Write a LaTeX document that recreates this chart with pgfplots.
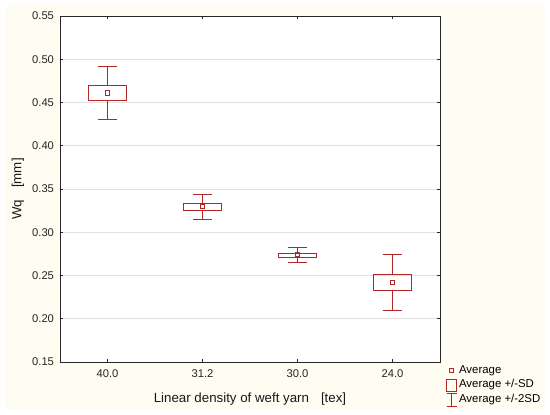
\documentclass[border=0pt]{standalone}
\usepackage{fontspec}
\setmainfont{Liberation Sans}
\usepackage{pgfplots}
\pgfplotsset{compat=1.18}
\usepgfplotslibrary{statistics}
\definecolor{cream}{RGB}{255,253,241}
\definecolor{dred}{RGB}{178,38,38}
\definecolor{axgray}{RGB}{40,40,40}
\begin{document}
\begin{tikzpicture}[x=1pt,y=1pt]
\fill[white] (-60,-53) rectangle (490,362);
\fill[cream] (-55,-48) rectangle (485,357);
\begin{axis}[
  at={(0,0)}, anchor=south west,
  scale only axis, width=380pt, height=346pt,
  xmin=-0.5, xmax=3.5, ymin=0.15, ymax=0.55,
  axis background/.style={fill=white},
  xtick={0,1,2,3}, xticklabels={40.0,31.2,30.0,24.0},
  ytick={0.15,0.20,0.25,0.30,0.35,0.40,0.45,0.50,0.55},
  yticklabels={0.15,0.20,0.25,0.30,0.35,0.40,0.45,0.50,0.55},
  ymajorgrids, grid style={draw=black!12, line width=0.8pt},
  axis line style={line width=0.9pt, draw=axgray},
  tick style={line width=0.8pt, draw=axgray},
  major tick length=3pt, tick align=inside,
  ticklabel style={font=\fontsize{11.2}{13}\selectfont, text=black!85},
  xticklabel style={yshift=-4pt},
  yticklabel style={xshift=-2.5pt},
  label style={font=\fontsize{13.3}{15}\selectfont, text=black!90},
  xlabel={Linear density of weft yarn\hspace{0.9em}[tex]},
  ylabel={Wq\hspace{0.9em}[mm]},
  xlabel style={at={(axis description cs:0.5,0)}, anchor=center, yshift=-37.5pt},
  ylabel style={at={(axis description cs:-0.1105,0.5)}, anchor=center},
  boxplot/draw direction=y,
  boxplot/box extend=0.41,
  boxplot/whisker extend=0.21,
  boxplot/draw/median/.code={},
  boxplot/draw/box/.code={\draw[draw=dred, line width=1pt]
    (boxplot box cs:\pgfplotsboxplotvalue{lower quartile},0) rectangle
    (boxplot box cs:\pgfplotsboxplotvalue{upper quartile},1);},
  boxplot/draw/lower whisker/.code={\draw[draw=dred, line width=1pt]
    (boxplot cs:\pgfplotsboxplotvalue{lower quartile}) --
    (boxplot cs:\pgfplotsboxplotvalue{lower whisker})
    (boxplot whisker cs:\pgfplotsboxplotvalue{lower whisker},0) --
    (boxplot whisker cs:\pgfplotsboxplotvalue{lower whisker},1);},
  boxplot/draw/upper whisker/.code={\draw[draw=dred, line width=1pt]
    (boxplot cs:\pgfplotsboxplotvalue{upper quartile}) --
    (boxplot cs:\pgfplotsboxplotvalue{upper whisker})
    (boxplot whisker cs:\pgfplotsboxplotvalue{upper whisker},0) --
    (boxplot whisker cs:\pgfplotsboxplotvalue{upper whisker},1);},
  legend style={at={(rel axis cs:1.0158,-0.003)}, anchor=north west,
    draw=none, fill=none, inner sep=0pt, row sep=0pt,
    font=\fontsize{11.4}{13}\selectfont,
    nodes={text height=8pt, text depth=2.6pt, inner sep=2pt}},
  legend cell align=left,
]
\addplot[draw=dred, line width=1pt, forget plot, boxplot prepared={draw position=0,
  lower whisker=0.4306, lower quartile=0.4525, median=0.461,
  upper quartile=0.4699, upper whisker=0.4914}] coordinates {};
\addplot[draw=dred, line width=1pt, forget plot, boxplot prepared={draw position=1,
  lower whisker=0.3153, lower quartile=0.3246, median=0.3296,
  upper quartile=0.3335, upper whisker=0.3431}] coordinates {};
\addplot[draw=dred, line width=1pt, forget plot, boxplot prepared={draw position=2,
  lower whisker=0.2653, lower quartile=0.2710, median=0.2745,
  upper quartile=0.2760, upper whisker=0.2821}] coordinates {};
\addplot[draw=dred, line width=1pt, forget plot, boxplot prepared={draw position=3,
  lower whisker=0.2101, lower quartile=0.2332, median=0.2421,
  upper quartile=0.2509, upper whisker=0.2737}] coordinates {};
\addplot[draw=dred, only marks, mark=square, mark size=2.3pt, line width=1pt, forget plot]
  coordinates {(0,0.461) (1,0.3296) (2,0.2745) (3,0.2421)};
\addlegendimage{legend image code/.code={\draw[draw=dred, line width=0.9pt] (2.7pt,-2.2pt) rectangle (7.2pt,2.2pt);}}
\addlegendentry{Average}
\addlegendimage{legend image code/.code={\draw[draw=dred, line width=0.9pt] (0pt,-6pt) rectangle (10pt,6pt);}}
\addlegendentry{Average +/-SD}
\addlegendimage{legend image code/.code={\draw[draw=dred, line width=0.9pt] (0pt,-6.5pt)--(10pt,-6.5pt) (0pt,6.5pt)--(10pt,6.5pt) (5pt,-6.5pt)--(5pt,6.5pt);}}
\addlegendentry{Average +/-2SD}
\end{axis}
\pgfresetboundingbox
\useasboundingbox (-60,-53) rectangle (490,362);
\end{tikzpicture}
\end{document}
